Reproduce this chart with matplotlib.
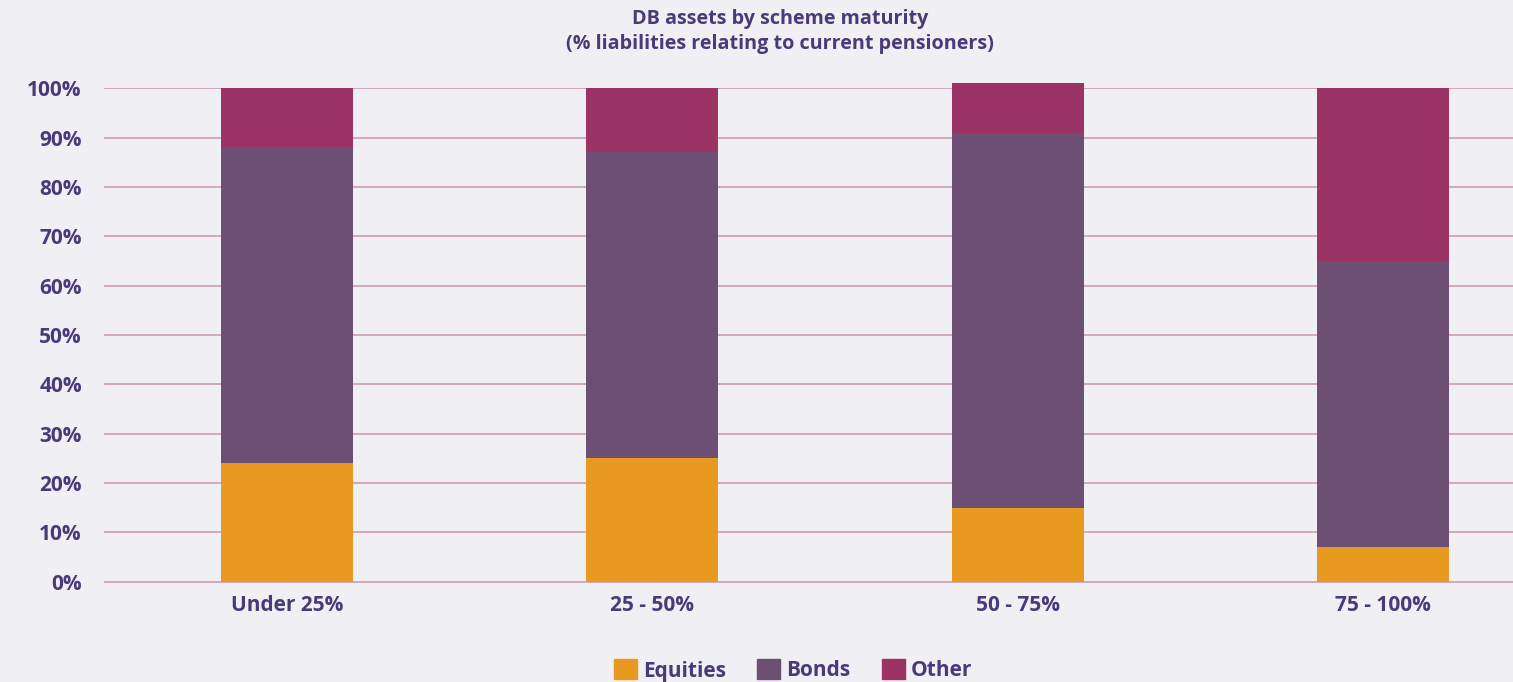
import matplotlib
matplotlib.use("Agg")
import matplotlib.pyplot as plt
from matplotlib.patches import Patch

categories = ["Under 25%", "25 - 50%", "50 - 75%", "75 - 100%"]
equities = [24, 25, 15, 7]
bonds = [64, 62, 76, 58]
other = [12, 13, 10, 35]
yticks = [0, 10, 20, 30, 40, 50, 60, 70, 80, 90, 100]
ytick_labels = [f"{v}%" for v in yticks]

c_eq = "#E89A20"
c_bo = "#6D4F73"
c_ot = "#9B3465"
bg = "#F0EFF4"
txt = "#4A3A7A"
grid = "#C995AE"

plt.rcParams['font.family'] = ['Open Sans', 'DejaVu Sans']

fig = plt.figure(figsize=(15.13, 6.82), dpi=100, facecolor=bg)
ax = fig.add_axes([104/1513, 99.5/682, 1462/1513, 495/682])
ax.set_facecolor(bg)

x = list(range(len(categories)))
w = 0.361
ax.bar(x, equities, w, color=c_eq, zorder=3, clip_on=False)
bottom2 = equities
ax.bar(x, bonds, w, bottom=bottom2, color=c_bo, zorder=3, clip_on=False)
bottom3 = [e + b for e, b in zip(equities, bonds)]
ax.bar(x, other, w, bottom=bottom3, color=c_ot, zorder=3, clip_on=False)

ax.set_xlim(-0.5, 3.5)
ax.set_ylim(-0.15, 100.15)
ax.set_yticks(yticks)
ax.set_yticklabels(ytick_labels)
ax.set_xticks(x)
ax.set_xticklabels(categories)
for s in ax.spines.values():
    s.set_visible(False)
ax.yaxis.grid(True, color=grid, linewidth=1.1, zorder=1)
ax.tick_params(axis='both', length=0, labelcolor=txt, labelsize=15)
ax.tick_params(axis='y', pad=16)
ax.tick_params(axis='x', pad=9)
for lab in ax.get_xticklabels() + ax.get_yticklabels():
    lab.set_fontweight('bold')

fig.text(780/1513, 1 - 19/682, "DB assets by scheme maturity", ha='center', va='center',
         fontsize=14.2, fontweight='bold', color=txt)
fig.text(780/1513, 1 - 44/682, "(% liabilities relating to current pensioners)", ha='center', va='center',
         fontsize=14.2, fontweight='bold', color=txt)

handles = [Patch(color=c_eq, label="Equities"), Patch(color=c_bo, label="Bonds"), Patch(color=c_ot, label="Other")]
leg = fig.legend(handles=handles, loc='upper center', bbox_to_anchor=(793/1513, 1 - 649/682), ncol=3,
                 frameon=False, fontsize=15, handlelength=1.1, handleheight=1.1,
                 handletextpad=0.3, columnspacing=1.5, borderpad=0)
for t in leg.get_texts():
    t.set_color(txt)
    t.set_fontweight('bold')

fig.savefig("out.png", dpi=100, facecolor=bg)
